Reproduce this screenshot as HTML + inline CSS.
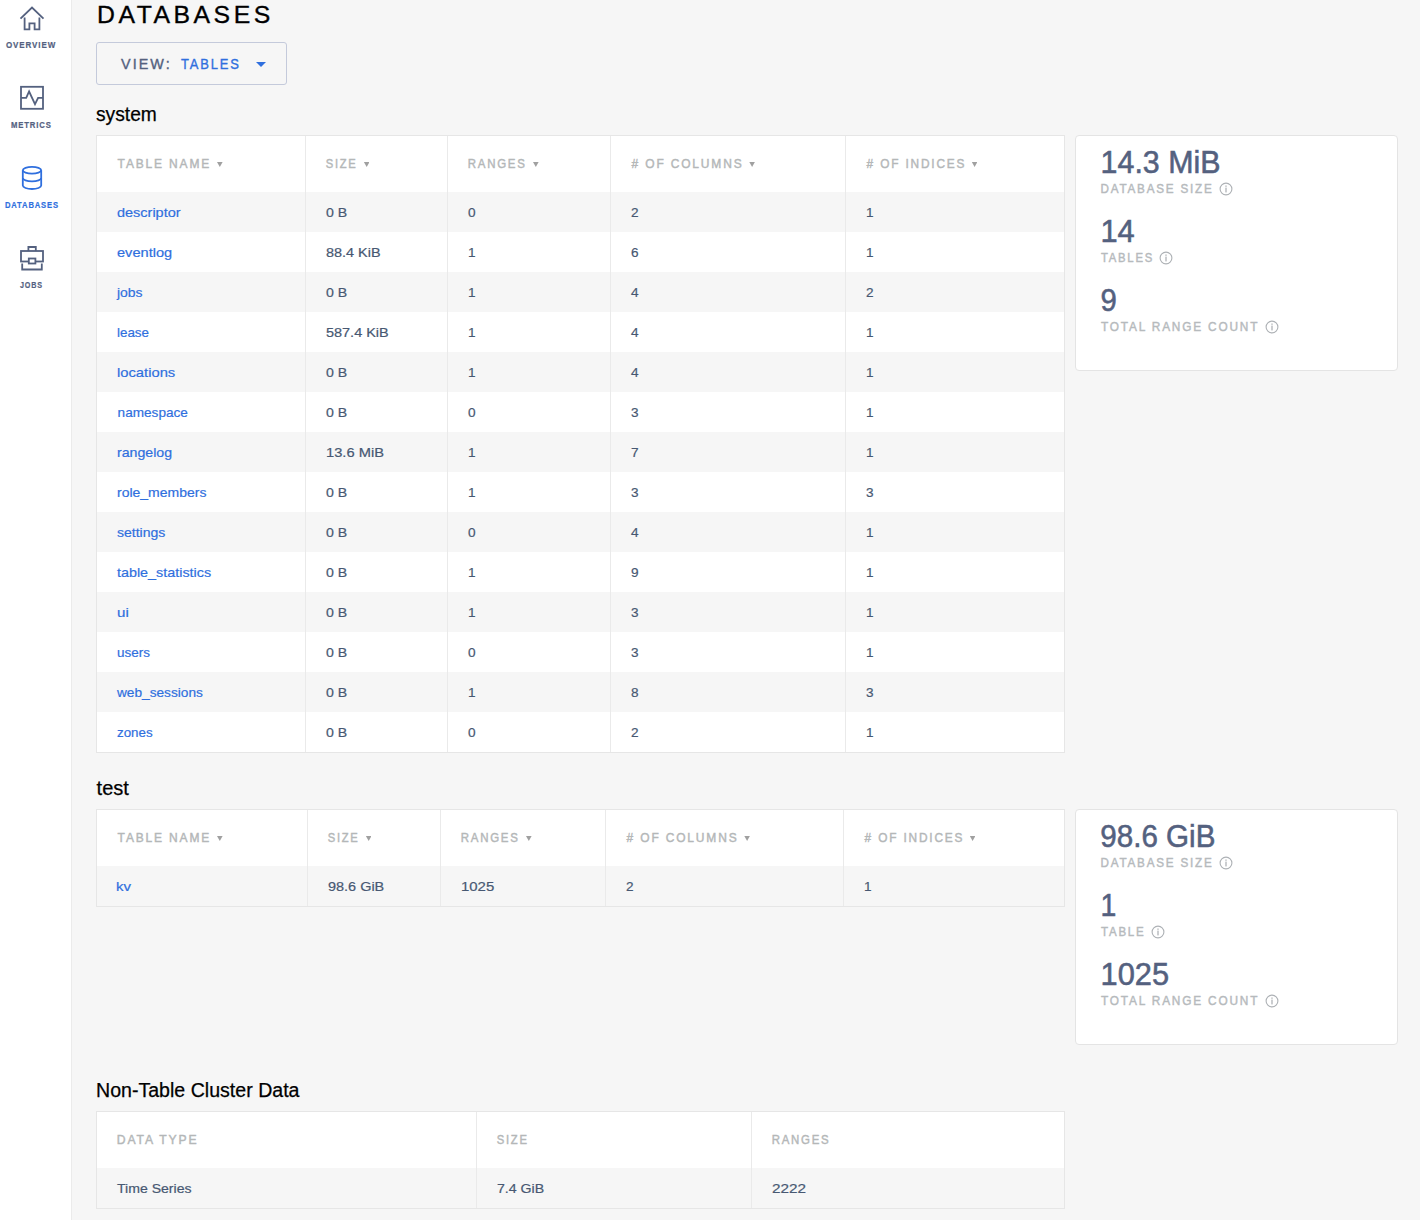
<!DOCTYPE html>
<html lang="en"><head><meta charset="utf-8"><title>Databases</title>
<style>
html,body{margin:0;padding:0}
body{width:1420px;height:1220px;overflow:hidden;background:#f6f6f6;font-family:"Liberation Sans",sans-serif;position:relative;color:#475872}
.f{display:inline-block;transform-origin:0 50%;white-space:nowrap}
.side{position:absolute;left:0;top:0;width:71px;height:1220px;background:#fff;border-right:1px solid #ebebeb}
.nav{position:absolute;left:0;width:64px;font-size:9px;font-weight:bold;letter-spacing:1px;color:#54617f;-webkit-text-stroke:.2px currentColor}
.nav svg{position:absolute}
.nav .f{position:absolute;top:40px;line-height:10px}
.nav.on{color:#2f6fde}
.title{position:absolute;left:97px;top:0;font-size:24.5px;line-height:29px;letter-spacing:3.5px;color:#000;white-space:nowrap;-webkit-text-stroke:.35px #000}
.dd{position:absolute;left:96px;top:42px;width:189px;height:41px;border:1px solid #c4cadb;border-radius:3px;font-size:14px;white-space:nowrap}
.dd .f{position:absolute;top:1px;line-height:41px;letter-spacing:2px;-webkit-text-stroke:.35px currentColor}
.vw{left:24px;color:#54617f}
.tb{left:84px;color:#2f6fde}
.caret{position:absolute;left:158.8px;top:19px;width:0;height:0;border-left:5px solid transparent;border-right:5px solid transparent;border-top:5px solid #2f6fde}
.h2{position:absolute;left:96px;font-size:20px;line-height:26px;color:#000;white-space:nowrap;-webkit-text-stroke:.25px #000}
.tbl{position:absolute;left:96px;width:967px;border:1px solid #e6e6e6;background:#fff}
.tr{display:flex;height:40px;background:#fff}
.tr:nth-child(even){background:#f6f6f6}
.tr.th{height:56px;background:#fff}
.c{box-sizing:border-box;position:relative;border-right:1px solid #eaeaea;padding-left:20px;font-size:13.6px;line-height:41px;white-space:nowrap;color:#475872;flex:none;-webkit-text-stroke:.2px currentColor}
.c:last-child{border-right:none}
.th .c{line-height:56px;font-size:13px;font-weight:normal;letter-spacing:2px;color:#b4b7b8;-webkit-text-stroke:.45px currentColor}
.ar{position:absolute;top:26px;width:5.6px;height:5px;margin-left:-.3px;background:#a0a0a0;clip-path:polygon(0 0,100% 0,50% 100%)}
.lk{color:#2f6fde}
.t1 .c1{width:209px}.t1 .c2{width:142px}.t1 .c3{width:163px}.t1 .c4{width:235px}.t1 .c5{width:218px}
.t2 .c1{width:211px}.t2 .c2{width:133px}.t2 .c3{width:165px}.t2 .c4{width:238px}.t2 .c5{width:220px}
.t3 .c1{width:380px}.t3 .c2{width:275px}.t3 .c3{width:312px}
.panel{position:absolute;left:1075px;width:321px;height:234px;border:1px solid #e4e4e4;border-radius:4px;background:#fff}
.stat{position:absolute;left:25px}
.stat:nth-child(1){top:9px}.stat:nth-child(2){top:78px}.stat:nth-child(3){top:147px}
.stat .v{font-size:30.5px;line-height:34px;color:#54617f;white-space:nowrap;-webkit-text-stroke:.55px #54617f}
.stat .l{position:relative;font-size:13px;line-height:16px;font-weight:normal;letter-spacing:2px;color:#b6babd;-webkit-text-stroke:.45px currentColor;white-space:nowrap;margin-top:2px}
.info{position:absolute;top:1.1px;width:14px;height:14px}
.info svg{display:block}
</style></head>
<body>
<div class="side">
<div class="nav" style="top:0"><svg style="left:18px;top:5px" width="28" height="28" viewBox="0 0 28 28" fill="none" stroke="#54617f" stroke-width="1.8"><path d="M2.5 13.7 L14 2.6 L25.5 13.7"/><path d="M6.6 12.5 V24.3 H11.4 V18.4 H16.6 V24.3 H21.4 V12.5"/></svg><span class="f" id="navOVERVIEW" style="left:6.1px;transform:translateX(0.00px) scaleX(0.8893)">OVERVIEW</span></div>
<div class="nav" style="top:80px"><svg style="left:18px;top:4px" width="28" height="28" viewBox="0 0 28 28" fill="none" stroke="#54617f" stroke-width="1.8"><rect x="3" y="2.8" width="22" height="22"/><path d="M3 13.9 H8.2 L11.1 7.5 L17 20.2 L20.1 13.9 H25"/></svg><span class="f" id="navMETRICS" style="left:10.9px;transform:translateX(0.00px) scaleX(0.8574)">METRICS</span></div>
<div class="nav on" style="top:160px"><svg style="left:18px;top:4px" width="28" height="28" viewBox="0 0 28 28" fill="none" stroke="#2f6fde" stroke-width="1.8"><ellipse cx="14" cy="6.2" rx="9.2" ry="3.4"/><path d="M4.8 6.2 V21.6 C4.8 23.5 8.9 25 14 25 C19.1 25 23.2 23.5 23.2 21.6 V6.2"/><path d="M4.8 13.9 C4.8 15.8 8.9 17.3 14 17.3 C19.1 17.3 23.2 15.8 23.2 13.9"/></svg><span class="f" id="navDATABASES" style="left:4.8px;transform:translateX(0.00px) scaleX(0.8460)">DATABASES</span></div>
<div class="nav" style="top:240px"><svg style="left:18px;top:4px" width="28" height="28" viewBox="0 0 28 28" fill="none" stroke="#54617f" stroke-width="1.8"><path d="M10.4 7 V3 H17.8 V7"/><rect x="3" y="7" width="22" height="10.5"/><rect x="10.8" y="14.5" width="6.6" height="5" fill="#fff"/><path d="M4.2 19.5 V25.5 H23.8 V19.5"/></svg><span class="f" id="navJOBS" style="left:19.8px;transform:translateX(0.00px) scaleX(0.7975)">JOBS</span></div>
</div>
<div class="title"><span class="f" id="f5" style="transform:translateX(0.00px) scaleX(1.0106)">DATABASES</span></div>
<div class="dd"><span class="f vw" id="f6" style="transform:translateX(0.00px) scaleX(1.0255)">VIEW:</span><span class="f tb" id="f7" style="transform:translateX(0.00px) scaleX(0.9238)">TABLES</span><span class="caret"></span></div>
<div class="h2" style="top:101px"><span class="f" id="f8" style="transform:translateX(0.00px) scaleX(0.9603)">system</span></div>
<div class="tbl t1" style="top:135px">
<div class="tr th"><div class="c c1"><span class="f ht" id="f9" style="transform:translateX(0.60px) scaleX(0.9219)">TABLE NAME</span><i class="ar" style="left:120.3px"></i></div><div class="c c2"><span class="f ht" id="f10" style="transform:translateX(-0.30px) scaleX(0.8603)">SIZE</span><i class="ar" style="left:58.2px"></i></div><div class="c c3"><span class="f ht" id="f11" style="transform:translateX(-0.30px) scaleX(0.8816)">RANGES</span><i class="ar" style="left:85.3px"></i></div><div class="c c4"><span class="f ht" id="f12" style="transform:translateX(0.60px) scaleX(0.9207)"># OF COLUMNS</span><i class="ar" style="left:138.6px"></i></div><div class="c c5"><span class="f ht" id="f13" style="transform:translateX(0.60px) scaleX(0.9124)"># OF INDICES</span><i class="ar" style="left:126.1px"></i></div></div>
<div class="tr"><div class="c c1"><a class="f lk" id="f14" style="transform:translateX(0.00px) scaleX(1.0651)">descriptor</a></div><div class="c c2"><span class="f" id="f15" style="transform:translateX(0.00px) scaleX(1.0400)">0 B</span></div><div class="c c3"><span class="f">0</span></div><div class="c c4"><span class="f">2</span></div><div class="c c5"><span class="f">1</span></div></div>
<div class="tr"><div class="c c1"><a class="f lk" id="f16" style="transform:translateX(0.00px) scaleX(1.0731)">eventlog</a></div><div class="c c2"><span class="f" id="f17" style="transform:translateX(0.00px) scaleX(1.0613)">88.4 KiB</span></div><div class="c c3"><span class="f">1</span></div><div class="c c4"><span class="f">6</span></div><div class="c c5"><span class="f">1</span></div></div>
<div class="tr"><div class="c c1"><a class="f lk" id="f18" style="transform:translateX(0.00px) scaleX(1.0231)">jobs</a></div><div class="c c2"><span class="f" id="f19" style="transform:translateX(0.00px) scaleX(1.0400)">0 B</span></div><div class="c c3"><span class="f">1</span></div><div class="c c4"><span class="f">4</span></div><div class="c c5"><span class="f">2</span></div></div>
<div class="tr"><div class="c c1"><a class="f lk" id="f20" style="transform:translateX(0.00px) scaleX(0.9844)">lease</a></div><div class="c c2"><span class="f" id="f21" style="transform:translateX(0.00px) scaleX(1.0633)">587.4 KiB</span></div><div class="c c3"><span class="f">1</span></div><div class="c c4"><span class="f">4</span></div><div class="c c5"><span class="f">1</span></div></div>
<div class="tr"><div class="c c1"><a class="f lk" id="f22" style="transform:translateX(0.00px) scaleX(1.0852)">locations</a></div><div class="c c2"><span class="f" id="f23" style="transform:translateX(0.00px) scaleX(1.0400)">0 B</span></div><div class="c c3"><span class="f">1</span></div><div class="c c4"><span class="f">4</span></div><div class="c c5"><span class="f">1</span></div></div>
<div class="tr"><div class="c c1"><a class="f lk" id="f24" style="transform:translateX(0.60px) scaleX(0.9995)">namespace</a></div><div class="c c2"><span class="f" id="f25" style="transform:translateX(0.00px) scaleX(1.0400)">0 B</span></div><div class="c c3"><span class="f">0</span></div><div class="c c4"><span class="f">3</span></div><div class="c c5"><span class="f">1</span></div></div>
<div class="tr"><div class="c c1"><a class="f lk" id="f26" style="transform:translateX(0.00px) scaleX(1.0416)">rangelog</a></div><div class="c c2"><span class="f" id="f27" style="transform:translateX(0.00px) scaleX(1.0805)">13.6 MiB</span></div><div class="c c3"><span class="f">1</span></div><div class="c c4"><span class="f">7</span></div><div class="c c5"><span class="f">1</span></div></div>
<div class="tr"><div class="c c1"><a class="f lk" id="f28" style="transform:translateX(0.00px) scaleX(1.0287)">role_members</a></div><div class="c c2"><span class="f" id="f29" style="transform:translateX(0.00px) scaleX(1.0400)">0 B</span></div><div class="c c3"><span class="f">1</span></div><div class="c c4"><span class="f">3</span></div><div class="c c5"><span class="f">3</span></div></div>
<div class="tr"><div class="c c1"><a class="f lk" id="f30" style="transform:translateX(0.00px) scaleX(1.0319)">settings</a></div><div class="c c2"><span class="f" id="f31" style="transform:translateX(0.00px) scaleX(1.0400)">0 B</span></div><div class="c c3"><span class="f">0</span></div><div class="c c4"><span class="f">4</span></div><div class="c c5"><span class="f">1</span></div></div>
<div class="tr"><div class="c c1"><a class="f lk" id="f32" style="transform:translateX(0.00px) scaleX(1.0551)">table_statistics</a></div><div class="c c2"><span class="f" id="f33" style="transform:translateX(0.00px) scaleX(1.0400)">0 B</span></div><div class="c c3"><span class="f">1</span></div><div class="c c4"><span class="f">9</span></div><div class="c c5"><span class="f">1</span></div></div>
<div class="tr"><div class="c c1"><a class="f lk" id="f34" style="transform:translateX(0.00px) scaleX(1.1100)">ui</a></div><div class="c c2"><span class="f" id="f35" style="transform:translateX(0.00px) scaleX(1.0400)">0 B</span></div><div class="c c3"><span class="f">1</span></div><div class="c c4"><span class="f">3</span></div><div class="c c5"><span class="f">1</span></div></div>
<div class="tr"><div class="c c1"><a class="f lk" id="f36" style="transform:translateX(0.00px) scaleX(0.9895)">users</a></div><div class="c c2"><span class="f" id="f37" style="transform:translateX(0.00px) scaleX(1.0400)">0 B</span></div><div class="c c3"><span class="f">0</span></div><div class="c c4"><span class="f">3</span></div><div class="c c5"><span class="f">1</span></div></div>
<div class="tr"><div class="c c1"><a class="f lk" id="f38" style="transform:translateX(0.00px) scaleX(1.0052)">web_sessions</a></div><div class="c c2"><span class="f" id="f39" style="transform:translateX(0.00px) scaleX(1.0400)">0 B</span></div><div class="c c3"><span class="f">1</span></div><div class="c c4"><span class="f">8</span></div><div class="c c5"><span class="f">3</span></div></div>
<div class="tr"><div class="c c1"><a class="f lk" id="f40" style="transform:translateX(0.00px) scaleX(0.9819)">zones</a></div><div class="c c2"><span class="f" id="f41" style="transform:translateX(0.00px) scaleX(1.0400)">0 B</span></div><div class="c c3"><span class="f">0</span></div><div class="c c4"><span class="f">2</span></div><div class="c c5"><span class="f">1</span></div></div>
</div>
<div class="panel" style="top:135px"><div class="stat"><div class="v"><span class="f" id="f42" style="transform:translateX(-0.40px) scaleX(0.9962)">14.3 MiB</span></div><div class="l"><span class="f lt" id="f43" style="transform:translateX(-0.50px) scaleX(0.8972)">DATABASE SIZE</span><span class="info" style="left:118.3px"><svg width="14" height="14" viewBox="0 0 14 14"><circle cx="7" cy="7" r="5.9" fill="none" stroke="#adb1b5" stroke-width="1.1"/><rect x="6.4" y="5.6" width="1.2" height="4.8" fill="#a9adb1"/><rect x="6.4" y="3.5" width="1.2" height="1.3" fill="#a9adb1"/></svg></span></div></div><div class="stat"><div class="v"><span class="f" id="f44" style="transform:translateX(-0.60px) scaleX(1.0109)">14</span></div><div class="l"><span class="f lt" id="f45" style="transform:translateX(0.00px) scaleX(0.8696)">TABLES</span><span class="info" style="left:58.3px"><svg width="14" height="14" viewBox="0 0 14 14"><circle cx="7" cy="7" r="5.9" fill="none" stroke="#adb1b5" stroke-width="1.1"/><rect x="6.4" y="5.6" width="1.2" height="4.8" fill="#a9adb1"/><rect x="6.4" y="3.5" width="1.2" height="1.3" fill="#a9adb1"/></svg></span></div></div><div class="stat"><div class="v"><span class="f" id="f46" style="transform:translateX(-0.50px) scaleX(0.9611)">9</span></div><div class="l"><span class="f lt" id="f47" style="transform:translateX(0.00px) scaleX(0.9098)">TOTAL RANGE COUNT</span><span class="info" style="left:164.1px"><svg width="14" height="14" viewBox="0 0 14 14"><circle cx="7" cy="7" r="5.9" fill="none" stroke="#adb1b5" stroke-width="1.1"/><rect x="6.4" y="5.6" width="1.2" height="4.8" fill="#a9adb1"/><rect x="6.4" y="3.5" width="1.2" height="1.3" fill="#a9adb1"/></svg></span></div></div></div>
<div class="h2" style="top:775px"><span class="f" id="f48" style="transform:translateX(0.60px) scaleX(1.0009)">test</span></div>
<div class="tbl t2" style="top:809px">
<div class="tr th"><div class="c c1"><span class="f ht" id="f49" style="transform:translateX(0.60px) scaleX(0.9219)">TABLE NAME</span><i class="ar" style="left:120.3px"></i></div><div class="c c2"><span class="f ht" id="f50" style="transform:translateX(-0.30px) scaleX(0.8603)">SIZE</span><i class="ar" style="left:58.2px"></i></div><div class="c c3"><span class="f ht" id="f51" style="transform:translateX(-0.30px) scaleX(0.8816)">RANGES</span><i class="ar" style="left:85.3px"></i></div><div class="c c4"><span class="f ht" id="f52" style="transform:translateX(0.60px) scaleX(0.9207)"># OF COLUMNS</span><i class="ar" style="left:138.6px"></i></div><div class="c c5"><span class="f ht" id="f53" style="transform:translateX(0.60px) scaleX(0.9124)"># OF INDICES</span><i class="ar" style="left:126.1px"></i></div></div>
<div class="tr"><div class="c c1"><a class="f lk" id="f54" style="transform:translateX(-0.90px) scaleX(1.1025)">kv</a></div><div class="c c2"><span class="f" id="f55" style="transform:translateX(0.00px) scaleX(1.0636)">98.6 GiB</span></div><div class="c c3"><span class="f" id="f56" style="transform:translateX(0.00px) scaleX(1.0978)">1025</span></div><div class="c c4"><span class="f">2</span></div><div class="c c5"><span class="f">1</span></div></div>
</div>
<div class="panel" style="top:809px"><div class="stat"><div class="v"><span class="f" id="f57" style="transform:translateX(-0.70px) scaleX(0.9697)">98.6 GiB</span></div><div class="l"><span class="f lt" id="f58" style="transform:translateX(-0.50px) scaleX(0.8972)">DATABASE SIZE</span><span class="info" style="left:118.3px"><svg width="14" height="14" viewBox="0 0 14 14"><circle cx="7" cy="7" r="5.9" fill="none" stroke="#adb1b5" stroke-width="1.1"/><rect x="6.4" y="5.6" width="1.2" height="4.8" fill="#a9adb1"/><rect x="6.4" y="3.5" width="1.2" height="1.3" fill="#a9adb1"/></svg></span></div></div><div class="stat"><div class="v"><span class="f" id="f59" style="transform:translateX(-0.40px) scaleX(0.9333)">1</span></div><div class="l"><span class="f lt" id="f60" style="transform:translateX(0.00px) scaleX(0.8864)">TABLE</span><span class="info" style="left:49.8px"><svg width="14" height="14" viewBox="0 0 14 14"><circle cx="7" cy="7" r="5.9" fill="none" stroke="#adb1b5" stroke-width="1.1"/><rect x="6.4" y="5.6" width="1.2" height="4.8" fill="#a9adb1"/><rect x="6.4" y="3.5" width="1.2" height="1.3" fill="#a9adb1"/></svg></span></div></div><div class="stat"><div class="v"><span class="f" id="f61" style="transform:translateX(-0.40px) scaleX(1.0093)">1025</span></div><div class="l"><span class="f lt" id="f62" style="transform:translateX(0.00px) scaleX(0.9098)">TOTAL RANGE COUNT</span><span class="info" style="left:164.1px"><svg width="14" height="14" viewBox="0 0 14 14"><circle cx="7" cy="7" r="5.9" fill="none" stroke="#adb1b5" stroke-width="1.1"/><rect x="6.4" y="5.6" width="1.2" height="4.8" fill="#a9adb1"/><rect x="6.4" y="3.5" width="1.2" height="1.3" fill="#a9adb1"/></svg></span></div></div></div>
<div class="h2" style="top:1077px"><span class="f" id="f63" style="transform:translateX(0.00px) scaleX(0.9789)">Non-Table Cluster Data</span></div>
<div class="tbl t3" style="top:1111px">
<div class="tr th"><div class="c c1"><span class="f ht" id="f64" style="transform:translateX(-0.20px) scaleX(0.9353)">DATA TYPE</span></div><div class="c c2"><span class="f ht" id="f65" style="transform:translateX(-0.30px) scaleX(0.8657)">SIZE</span></div><div class="c c3"><span class="f ht" id="f66" style="transform:translateX(-0.30px) scaleX(0.8786)">RANGES</span></div></div>
<div class="tr"><div class="c c1"><span class="f" id="f67" style="transform:translateX(0.00px) scaleX(1.0347)">Time Series</span></div><div class="c c2"><span class="f" id="f68" style="transform:translateX(0.00px) scaleX(1.0402)">7.4 GiB</span></div><div class="c c3"><span class="f" id="f69" style="transform:translateX(0.00px) scaleX(1.1234)">2222</span></div></div>
</div>
</body></html>
